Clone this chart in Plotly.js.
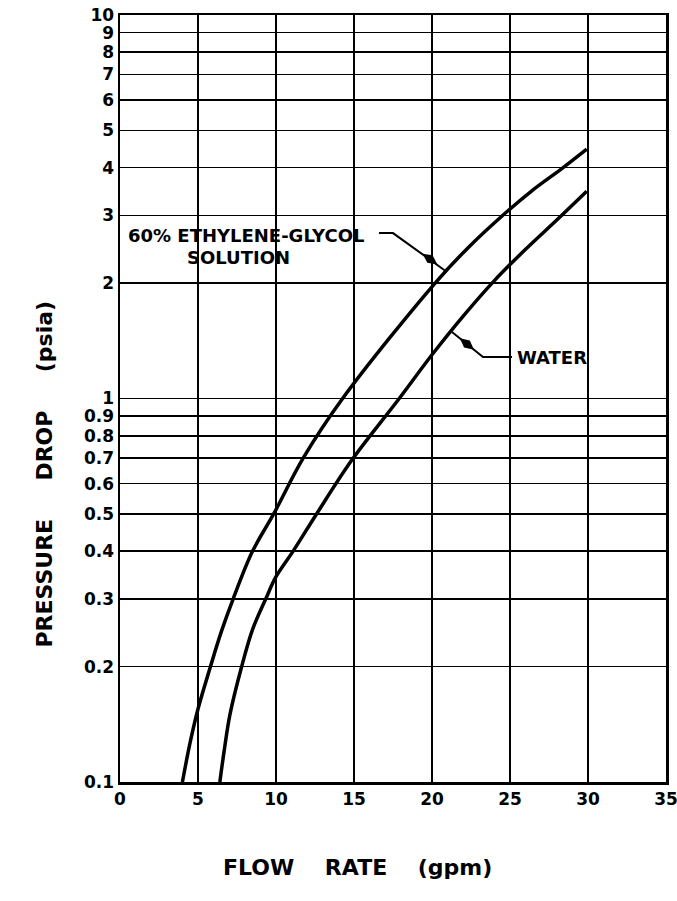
<!DOCTYPE html>
<html>
<head>
<meta charset="utf-8">
<script src="https://cdn.plot.ly/plotly-3.0.1.min.js"></script>
<style>html,body{margin:0;padding:0;background:#fff;}#chart{width:677px;height:901px;}</style>
</head>
<body>
<div id="chart"></div>
<script>
// Flow rate (gpm) and pressure drop (psia)
var glycolFlow = [4.0, 4.5, 5.0, 5.8, 6.5, 7.25, 8.5, 9.85, 11.75, 14.27, 20.2, 22.3, 24.4, 26.4, 28.3, 29.92];
var glycolDrop = [0.1, 0.127, 0.155, 0.2, 0.247, 0.3, 0.4, 0.5, 0.7, 1.0, 2.0, 2.47, 2.97, 3.48, 3.97, 4.47];
var waterFlow = [6.4, 6.67, 7.05, 7.8, 8.5, 9.34, 10.0, 11.1, 12.6, 14.85, 17.9, 20.0, 22.0, 24.0, 26.0, 28.0, 29.92];
var waterDrop = [0.1, 0.12, 0.15, 0.2, 0.25, 0.3, 0.343, 0.4, 0.5, 0.69, 1.0, 1.30, 1.64, 2.03, 2.45, 2.92, 3.47];

var yTickVals = [0.1,0.2,0.3,0.4,0.5,0.6,0.7,0.8,0.9,1,2,3,4,5,6,7,8,9,10];
var yTickText = ["0.1","0.2","0.3","0.4","0.5","0.6","0.7","0.8","0.9","1","2","3","4","5","6","7","8","9","10"];
var xTickVals = [0,5,10,15,20,25,30,35];
var xTickText = ["0","5","10","15","20","25","30","35"];

// Label leader lines (flow, pressure) and pointer marks
var glycolLeaderX = [16.6, 17.5, 20.96];
var glycolLeaderY = [2.70, 2.70, 2.138];
var waterLeaderX = [25.13, 23.27, 21.28];
var waterLeaderY = [1.283, 1.283, 1.491];
var pointerX = [19.87, 22.24];
var pointerY = [2.31, 1.387];
var pointerAngle = [-54, -51];

var font = "DejaVu Sans, sans-serif";

var traces = [
  {x: glycolFlow, y: glycolDrop, mode: "lines", line: {color: "#000", width: 3.5, shape: "spline", smoothing: 1.0}, hoverinfo: "skip"},
  {x: waterFlow, y: waterDrop, mode: "lines", line: {color: "#000", width: 3.5, shape: "spline", smoothing: 1.0}, hoverinfo: "skip"},
  {x: glycolLeaderX, y: glycolLeaderY, mode: "lines", line: {color: "#000", width: 2}, hoverinfo: "skip"},
  {x: waterLeaderX, y: waterLeaderY, mode: "lines", line: {color: "#000", width: 2}, hoverinfo: "skip"},
  {x: pointerX, y: pointerY, mode: "markers", marker: {symbol: "diamond-tall", size: 13, color: "#000", angle: pointerAngle, line: {width: 0}}, hoverinfo: "skip"}
];

var tickFont = {family: font, size: 17, color: "#000", weight: "bold"};
var labelFont = {family: font, size: 18, color: "#000", weight: "bold"};
var titleFont = {family: font, size: 22, color: "#000", weight: "bold"};

var layout = {
  width: 677, height: 901,
  margin: {l: 120, r: 11, t: 15, b: 119},
  paper_bgcolor: "#fff", plot_bgcolor: "#fff",
  showlegend: false,
  font: {family: font, color: "#000", size: 16},
  xaxis: {
    range: [0, 35], tickvals: xTickVals, ticktext: xTickText,
    showgrid: true, gridcolor: "#000", gridwidth: 1.7,
    showline: true, linecolor: "#000", linewidth: 2.5, mirror: true,
    ticks: "", ticklen: 0, zeroline: false, ticklabeloverflow: "allow",
    tickfont: tickFont
  },
  yaxis: {
    type: "log", range: [-1, 1], tickvals: yTickVals, ticktext: yTickText,
    showgrid: true, gridcolor: "#000", gridwidth: 1.7,
    showline: true, linecolor: "#000", linewidth: 2.5, mirror: true,
    ticks: "", ticklen: 0, zeroline: false, ticklabeloverflow: "allow",
    tickfont: tickFont
  },
  annotations: [
    {text: "60% ETHYLENE-GLYCOL", x: 0.385, y: Math.log10(2.66), xref: "x", yref: "y", xanchor: "left", yanchor: "middle", showarrow: false, font: labelFont},
    {text: "SOLUTION", x: 7.6, y: Math.log10(2.325), xref: "x", yref: "y", xanchor: "center", yanchor: "middle", showarrow: false, font: labelFont},
    {text: "WATER", x: 25.32, y: Math.log10(1.28), xref: "x", yref: "y", xanchor: "left", yanchor: "middle", showarrow: false, font: labelFont},
    {text: "FLOW    RATE    (gpm)", x: 0, y: 0, xref: "paper", yref: "paper", showarrow: false, font: titleFont},
    {text: "PRESSURE     DROP     (psia)", x: 0, y: 0, xref: "paper", yref: "paper", textangle: -90, showarrow: false, font: titleFont}
  ]
};

// place the two axis titles by their pixel centres in the reference
var pw = 677 - 120 - 11, ph = 901 - 15 - 119;
layout.annotations[3].x = (357 - 120) / pw; layout.annotations[3].y = (901 - 119 - 882) / ph;
layout.annotations[4].x = (29 - 120) / pw; layout.annotations[4].y = (901 - 119 - 474) / ph;

Plotly.newPlot("chart", traces, layout, {staticPlot: true});
</script>
</body>
</html>
